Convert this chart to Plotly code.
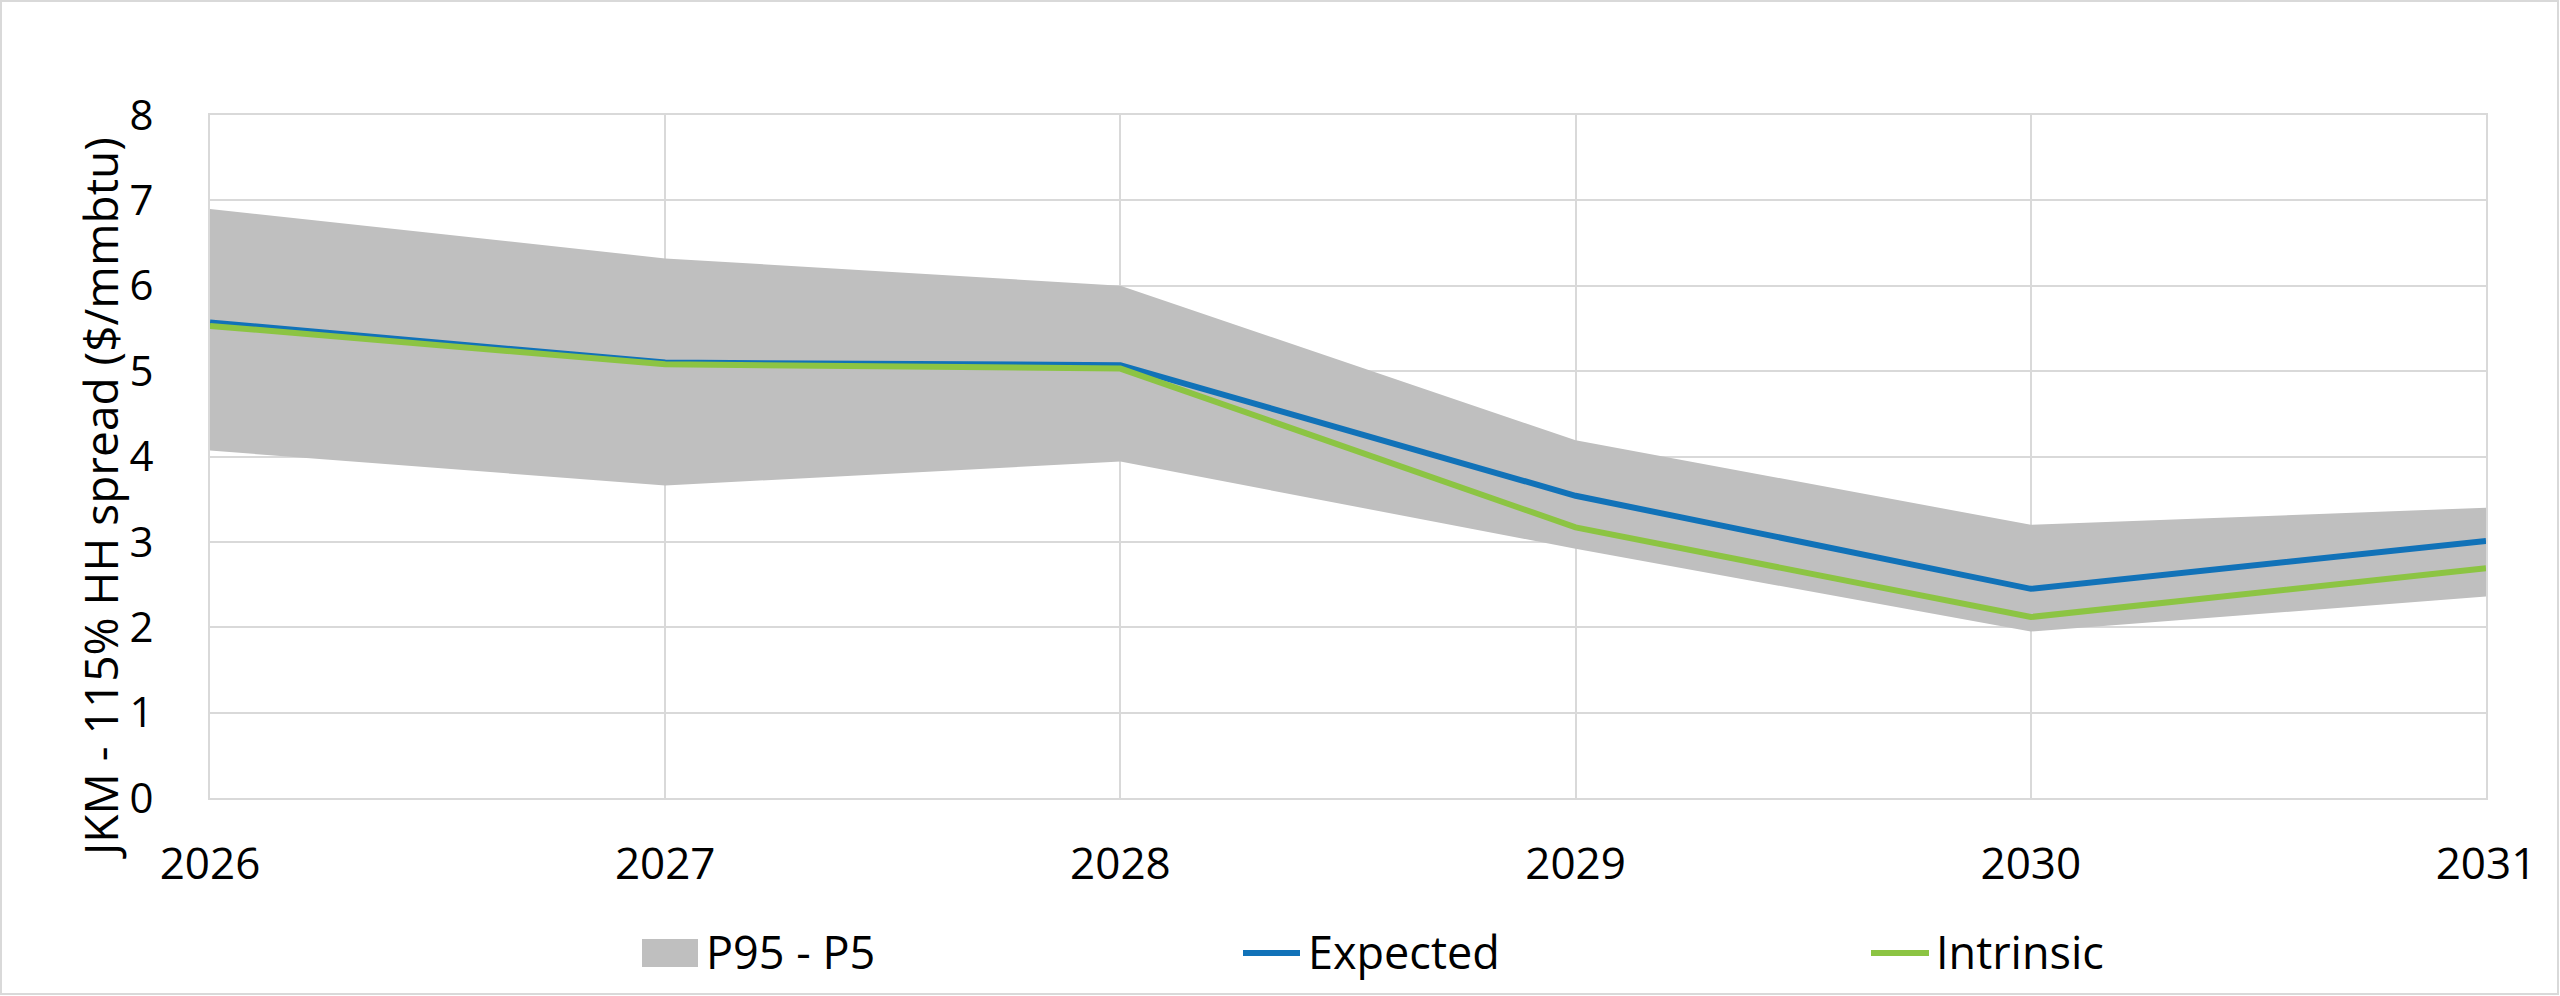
import plotly.graph_objects as go

years = [2026, 2027, 2028, 2029, 2030, 2031]
p95 = [6.90, 6.32, 6.00, 4.19, 3.20, 3.40]
p5 = [4.07, 3.66, 3.94, 2.92, 1.95, 2.36]
expected = [5.57, 5.10, 5.07, 3.54, 2.45, 3.01]
intrinsic = [5.53, 5.08, 5.03, 3.17, 2.12, 2.69]
series_names = ["P95 - P5", "Expected", "Intrinsic"]
y_title = "JKM - 115% HH spread ($/mmbtu)"

FONT = "Open Sans"
GRID = "#d9d9d9"
BAND = "#bfbfbf"
BLUE = "#1172b8"
GREEN = "#8cc443"

fig = go.Figure()
fig.add_trace(go.Scatter(x=years, y=p5, mode="lines", line=dict(width=0, color=BAND),
                         showlegend=False, hoverinfo="skip"))
fig.add_trace(go.Scatter(x=years, y=p95, mode="lines", line=dict(width=0, color=BAND),
                         fill="tonexty", fillcolor=BAND, name=series_names[0], showlegend=False))
fig.add_trace(go.Scatter(x=years, y=expected, mode="lines", line=dict(width=6, color=BLUE),
                         name=series_names[1], showlegend=False))
fig.add_trace(go.Scatter(x=years, y=intrinsic, mode="lines", line=dict(width=6, color=GREEN),
                         name=series_names[2], showlegend=False))

W, H = 2560, 996
L, R, T, B = 210, 74, 115, 198
pw, ph = W - L - R, H - T - B


def px(xp):
    return (xp - L) / pw


def py(yp):
    return (H - B - yp) / ph


# manual legend (symbols + text)
LEG_Y = 953
shapes = [
    dict(type="rect", xref="paper", yref="paper", x0=px(1), x1=px(W - 2), y0=py(H - 2), y1=py(1),
         line=dict(color=GRID, width=2), fillcolor="rgba(0,0,0,0)", layer="below"),
    dict(type="rect", xref="paper", yref="paper", x0=px(642), x1=px(698), y0=py(967), y1=py(939),
         line=dict(width=0), fillcolor=BAND),
    dict(type="line", xref="paper", yref="paper", x0=px(1243), x1=px(1300), y0=py(LEG_Y), y1=py(LEG_Y),
         line=dict(color=BLUE, width=6)),
    dict(type="line", xref="paper", yref="paper", x0=px(1871), x1=px(1929), y0=py(LEG_Y), y1=py(LEG_Y),
         line=dict(color=GREEN, width=6)),
]
annotations = []
for name, xpos in zip(series_names, [704, 1306, 1934]):
    annotations.append(dict(text=name, xref="paper", yref="paper", x=px(xpos), y=py(951),
                            xanchor="left", yanchor="middle", showarrow=False,
                            font=dict(size=45, family=FONT, color="#000000")))
annotations.append(dict(text=y_title, xref="paper", yref="paper", x=px(100), y=py(498),
                        xanchor="center", yanchor="middle", showarrow=False, textangle=-90,
                        font=dict(size=46, family=FONT, color="#000000")))

fig.update_layout(
    width=W, height=H,
    margin=dict(l=L, r=R, t=T, b=B, pad=0, autoexpand=False),
    paper_bgcolor="white", plot_bgcolor="white",
    font=dict(family=FONT, size=44, color="#000000"),
    showlegend=False,
    xaxis=dict(range=[2026, 2031], tickmode="array", tickvals=years, ticktext=[str(y) for y in years],
               showgrid=True, gridcolor=GRID, gridwidth=2, showline=True, linecolor=GRID, linewidth=2,
               mirror=True, zeroline=False, ticks="", ticklabelstandoff=26,
               tickfont=dict(size=44, family=FONT)),
    yaxis=dict(range=[0, 8], dtick=1, tick0=0, showgrid=True, gridcolor=GRID, gridwidth=2,
               showline=True, linecolor=GRID, linewidth=2, mirror=True, zeroline=False, ticks="",
               ticklabelstandoff=46, tickfont=dict(size=42, family=FONT)),
    shapes=shapes,
    annotations=annotations,
)

fig.write_html("out.html", config={"displayModeBar": False},
               post_script="document.body.style.margin='0';document.body.style.padding='0';"
                           "document.documentElement.style.overflow='hidden';")
